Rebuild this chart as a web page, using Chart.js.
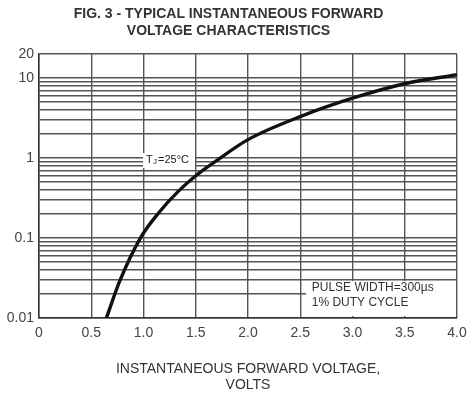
<!DOCTYPE html>
<html>
<head>
<meta charset="utf-8">
<script src="https://cdn.jsdelivr.net/npm/chart.js@4.4.1/dist/chart.umd.min.js"></script>
<style>
  html, body { margin: 0; padding: 0; background: #fff; }
  #wrap { width: 467px; height: 396px; }
</style>
</head>
<body>
<div id="wrap"><canvas id="vfChart"></canvas></div>
<script>
// forward voltage (V) vs instantaneous forward current (A)
const voltage = [0.645, 0.775, 0.97, 1.15, 1.33, 1.50, 1.70, 2.00, 2.50, 3.00, 3.50, 4.00];
const current = [0.01, 0.0295, 0.10, 0.21, 0.38, 0.60, 0.93, 1.7, 3.3, 5.6, 8.5, 11.0];

const yTicks = [0.01, 0.02, 0.03, 0.04, 0.05, 0.06, 0.07, 0.08, 0.09,
                0.1, 0.2, 0.3, 0.4, 0.5, 0.6, 0.7, 0.8, 0.9,
                1, 2, 3, 4, 5, 6, 7, 8, 9, 10, 20];
const yLabels = [0.01, 0.1, 1, 10, 20];
const xLabels = ['0', '0.5', '1.0', '1.5', '2.0', '2.5', '3.0', '3.5', '4.0'];

const FONT = "'Liberation Sans', Arial, sans-serif";
const GRID = '#555';

// white boxes + text for the two notes on the plot
const notesPlugin = {
  id: 'notes',
  beforeDatasetsDraw(chart) {
    const ctx = chart.ctx;
    const x = chart.scales.x, y = chart.scales.y;
    ctx.save();
    ctx.fillStyle = '#fff';
    // pulse width box (lower right)
    const bx = x.getPixelForValue(2.555);
    const by = y.getPixelForValue(0.029);
    ctx.fillRect(bx, by, chart.chartArea.right - bx - 1, chart.chartArea.bottom - by - 2);
    ctx.restore();
  },
  afterDatasetsDraw(chart) {
    const ctx = chart.ctx;
    const x = chart.scales.x, y = chart.scales.y;
    ctx.save();
    // Tj label
    const tx = x.getPixelForValue(1.024);
    const ty = y.getPixelForValue(0.944);
    ctx.fillStyle = '#fff';
    ctx.fillRect(tx - 3, ty - 7, 52, 15);
    ctx.fillStyle = '#222';
    ctx.textBaseline = 'middle';
    ctx.font = '11px ' + FONT;
    ctx.fillText('T', tx, ty);
    ctx.font = '8px ' + FONT;
    ctx.fillText('J', tx + 7, ty + 2);
    ctx.font = '11px ' + FONT;
    ctx.fillText('=25°C', tx + 12, ty);

    // pulse note
    const px = x.getPixelForValue(2.61);
    ctx.font = '12px ' + FONT;
    ctx.fillStyle = '#333';
    ctx.fillText('PULSE WIDTH=300µs', px, y.getPixelForValue(0.0237));
    ctx.fillText('1% DUTY CYCLE', px, y.getPixelForValue(0.0154));
    ctx.restore();
  }
};

const ctx = document.getElementById('vfChart').getContext('2d');
new Chart(ctx, {
  type: 'line',
  data: {
    datasets: [{
      data: voltage.map((v, i) => ({ x: v, y: current[i] })),
      borderColor: '#111',
      borderWidth: 3.4,
      pointRadius: 0,
      cubicInterpolationMode: 'monotone',
      fill: false
    }]
  },
  options: {
    responsive: true,
    maintainAspectRatio: false,
    animation: false,
    layout: { padding: { left: 0, right: 10, top: 0, bottom: 0 } },
    plugins: {
      legend: { display: false },
      tooltip: { enabled: false },
      title: {
        display: true,
        text: ['FIG. 3 - TYPICAL INSTANTANEOUS FORWARD', 'VOLTAGE CHARACTERISTICS'],
        color: '#333',
        font: { family: FONT, size: 14, weight: 'bold', lineHeight: 1.2 },
        padding: { top: 6, bottom: 14.4 }
      }
    },
    scales: {
      x: {
        type: 'linear',
        min: 0,
        max: 4,
        afterBuildTicks(scale) {
          scale.ticks = xLabels.map(v => ({ value: parseFloat(v) }));
        },
        afterFit(scale) {
          scale.height = 78;
          scale.paddingLeft = 0;
          scale.paddingRight = 0;
        },
        grid: { color: GRID, lineWidth: 1.4, drawTicks: false },
        border: { color: '#333', width: 1.5 },
        ticks: {
          padding: 7,
          color: '#444',
          font: { family: FONT, size: 14 },
          maxRotation: 0,
          callback: (v, i) => xLabels[i]
        },
        title: {
          display: true,
          text: ['INSTANTANEOUS FORWARD VOLTAGE,', 'VOLTS'],
          color: '#333',
          font: { family: FONT, size: 14, lineHeight: 1.2 },
          padding: { top: 20, bottom: 2 }
        }
      },
      y: {
        type: 'logarithmic',
        min: 0.01,
        max: 20,
        afterBuildTicks(scale) {
          scale.ticks = yTicks.map(v => ({ value: v }));
        },
        afterFit(scale) {
          scale.width = 39;
          scale.paddingTop = 0;
          scale.paddingBottom = 0;
        },
        grid: { color: GRID, lineWidth: 1.4, drawTicks: false },
        border: { color: '#333', width: 1.5 },
        ticks: {
          padding: 5,
          color: '#444',
          font: { family: FONT, size: 14 },
          autoSkip: false,
          callback: (v) => yLabels.includes(v) ? String(v) : ''
        }
      }
    }
  },
  plugins: [notesPlugin]
});
</script>
</body>
</html>
